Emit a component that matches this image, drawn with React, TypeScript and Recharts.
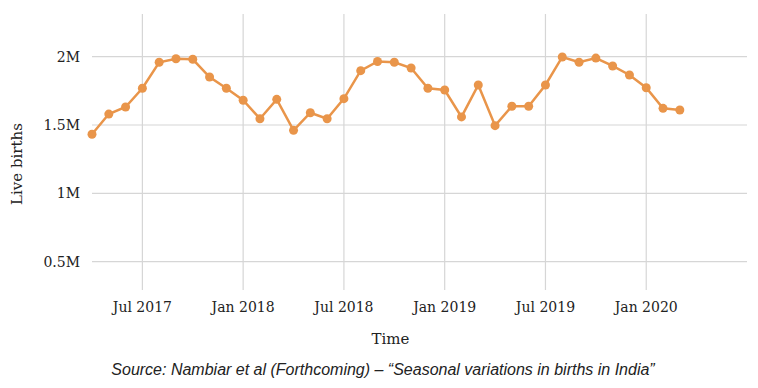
import { LineChart, Line, XAxis, YAxis, CartesianGrid, Label } from "recharts";

// monthly live births, Apr 2017 - Mar 2020
const months = [
  "Apr 2017", "May 2017", "Jun 2017", "Jul 2017", "Aug 2017", "Sep 2017",
  "Oct 2017", "Nov 2017", "Dec 2017", "Jan 2018", "Feb 2018", "Mar 2018",
  "Apr 2018", "May 2018", "Jun 2018", "Jul 2018", "Aug 2018", "Sep 2018",
  "Oct 2018", "Nov 2018", "Dec 2018", "Jan 2019", "Feb 2019", "Mar 2019",
  "Apr 2019", "May 2019", "Jun 2019", "Jul 2019", "Aug 2019", "Sep 2019",
  "Oct 2019", "Nov 2019", "Dec 2019", "Jan 2020", "Feb 2020", "Mar 2020",
];

const births = [
  1432000, 1580000, 1632000, 1769000, 1959000, 1985000,
  1981000, 1851000, 1769000, 1681000, 1546000, 1688000,
  1461000, 1590000, 1546000, 1693000, 1898000, 1965000,
  1959000, 1917000, 1769000, 1756000, 1559000, 1793000,
  1495000, 1637000, 1637000, 1793000, 1998000, 1959000,
  1990000, 1932000, 1866000, 1773000, 1622000, 1610000,
];

const tickLabels = ["Jul 2017", "Jan 2018", "Jul 2018", "Jan 2019", "Jul 2019", "Jan 2020"];
const yTicks = [500000, 1000000, 1500000, 2000000];

const data = months.map((m, i) => ({ t: i, month: m, births: births[i] }));
const xTicks = tickLabels.map((l) => months.indexOf(l));

const serif = "'DejaVu Serif', serif";
const orange = "#E9954A";

const fmtY = (v: number) => `${v / 1000000}M`;

export default function App() {
  return (
    <div
      style={{
        position: "absolute",
        left: 0,
        top: 0,
        width: 758,
        height: 388,
        background: "#fff",
      }}
    >
      <LineChart
        width={758}
        height={348}
        data={data}
        margin={{ top: 14, right: 11, left: 0, bottom: 0 }}
      >
        <CartesianGrid
          stroke="#d6d6d6"
          strokeWidth={1.2}
          horizontalValues={yTicks}
          verticalValues={xTicks}
        />
        <XAxis
          dataKey="t"
          type="number"
          domain={[0, 39]}
          ticks={xTicks}
          tickFormatter={(v: number) => months[v]}
          axisLine={false}
          tickLine={false}
          tickSize={0}
          tickMargin={12}
          height={58}
          tick={{ fontSize: 14, fill: "#222", fontFamily: serif }}
        >
          <Label
            value="Time"
            position="insideBottom"
            offset={4}
            dx={-29}
            style={{ fontSize: 15, fill: "#222", fontFamily: serif }}
          />
        </XAxis>
        <YAxis
          type="number"
          domain={[292000, 2312600]}
          ticks={yTicks}
          tickFormatter={fmtY}
          axisLine={false}
          tickLine={false}
          tickSize={0}
          tickMargin={12}
          width={92}
          tick={{ fontSize: 14, fill: "#222", fontFamily: serif }}
        >
          <Label
            content={() => (
              <text
                x={17}
                y={164}
                transform="rotate(-90, 17, 164)"
                textAnchor="middle"
                dominantBaseline="central"
                style={{ fontSize: 15, fill: "#222", fontFamily: serif }}
              >
                Live births
              </text>
            )}
          />
        </YAxis>
        <Line
          type="linear"
          dataKey="births"
          stroke={orange}
          strokeWidth={2.5}
          dot={{ r: 4.5, fill: orange, stroke: orange, strokeWidth: 0 }}
          activeDot={false}
          isAnimationActive={false}
        />
      </LineChart>
      <div
        style={{
          position: "absolute",
          left: 0,
          top: 361,
          width: 766,
          textAlign: "center",
          fontFamily: "'Liberation Sans', Arial, sans-serif",
          fontStyle: "italic",
          fontSize: 16,
          color: "#222",
        }}
      >
        Source: Nambiar et al (Forthcoming) – “Seasonal variations in births in India”
      </div>
    </div>
  );
}
